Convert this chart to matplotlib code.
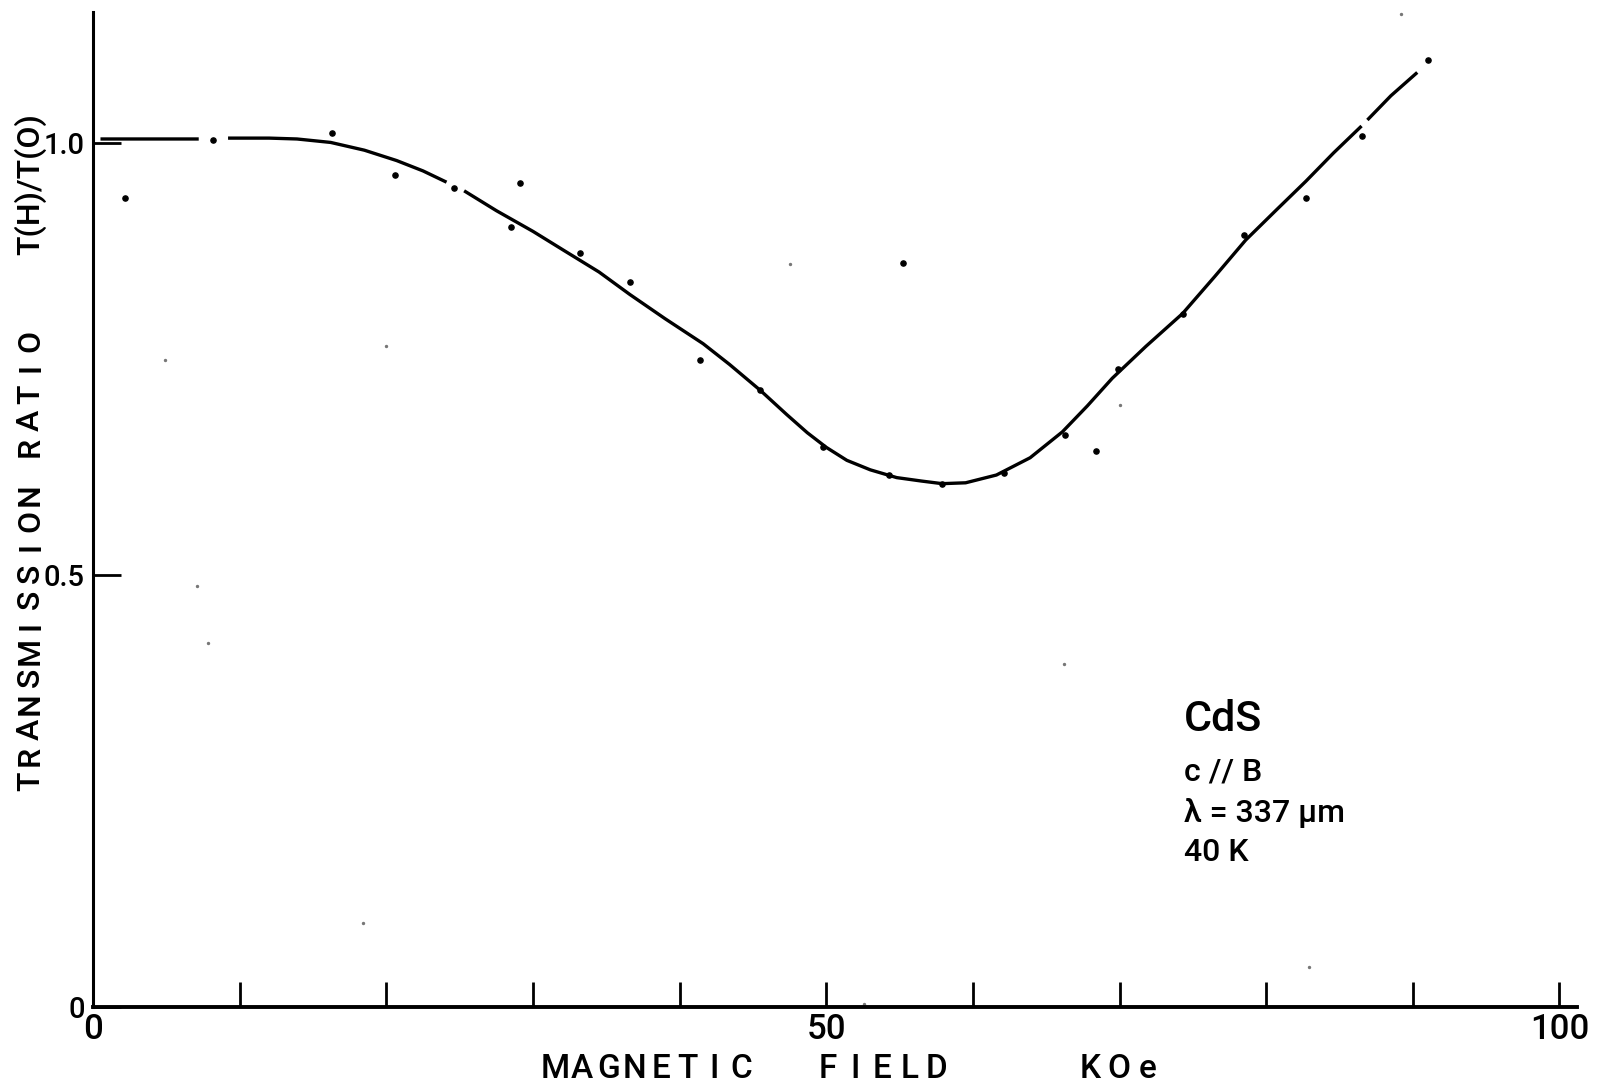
import numpy as np
import matplotlib
matplotlib.use("Agg")
from matplotlib import pyplot as plt
from matplotlib import transforms

plt.rcParams['font.family'] = ['Roboto', 'DejaVu Sans']
plt.rcParams['font.weight'] = 'medium'

# hand-drawn curve, nan = pen lifted
curve_x = [0.5, 3.0, 7.2, np.nan, 9.2, 12.0, 13.9, 16.2, 18.5, 20.7, 22.5, 24.1, np.nan,
           25.3, 27.5, 30.0, 32.1, 34.5, 36.6, 39.0, 41.6, 43.4, 45.5, 47.3, 48.7, 50.0,
           51.4, 53.0, 54.8, 56.5, 57.9, 59.5, 61.6, 63.9, 66.1, 67.8, 69.5, 71.8, 74.3,
           76.5, 78.6, 80.7, 82.7, 84.6, 86.5, np.nan, 86.9, 88.5, 90.3]
curve_y = [1.005, 1.005, 1.005, np.nan, 1.006, 1.006, 1.005, 1.001, 0.992, 0.980, 0.968, 0.955, np.nan,
           0.945, 0.922, 0.898, 0.876, 0.851, 0.825, 0.797, 0.768, 0.744, 0.714, 0.686, 0.665, 0.648,
           0.633, 0.622, 0.613, 0.609, 0.606, 0.607, 0.616, 0.636, 0.666, 0.696, 0.728, 0.765, 0.803,
           0.846, 0.888, 0.923, 0.956, 0.989, 1.020, np.nan, 1.027, 1.055, 1.082]

# measured points
pts_x = [2.2, 8.2, 16.3, 20.6, 24.6, 29.1, 28.5, 33.2, 36.6, 41.4, 45.5, 49.8, 54.3,
         55.2, 57.9, 62.1, 66.3, 68.4, 69.9, 74.3, 78.5, 82.7, 86.5, 91.0]
pts_y = [0.937, 1.004, 1.012, 0.963, 0.948, 0.954, 0.903, 0.873, 0.839, 0.749, 0.714, 0.648, 0.616,
         0.861, 0.606, 0.618, 0.662, 0.644, 0.739, 0.802, 0.894, 0.937, 1.008, 1.097]

# scan specks
speck_x = [4.9, 7.1, 7.8, 18.4, 89.2, 82.9, 66.2, 70.0, 52.6, 20.0, 47.5]
speck_y = [0.749, 0.488, 0.421, 0.098, 1.150, 0.047, 0.397, 0.697, 0.004, 0.765, 0.860]

xticks = [0, 10, 20, 30, 40, 50, 60, 70, 80, 90, 100]
xticklabels = ['0', '', '', '', '', '50', '', '', '', '', '100']
yticks = [0, 0.5, 1.0]
yticklabels = ['0', '0.5', '1.0']

notes = ['CdS', 'c // B', 'λ = 337 μm', '40 K']
notes_y = [0.333, 0.272, 0.225, 0.179]
notes_size = [31, 23, 23, 23]

fig = plt.figure(figsize=(16.06, 10.90), dpi=100)
ax = fig.add_axes([0.058, 0.076, 0.924, 0.913])

ax.plot(curve_x, curve_y, color='black', lw=2.4, solid_capstyle='butt')
ax.scatter(pts_x, pts_y, s=14, color='black', zorder=3)
ax.scatter(speck_x, speck_y, s=2, color='#777777', zorder=2)

ax.set_xlim(0, 101.2)
ax.set_ylim(0, 1.152)
ax.spines['top'].set_visible(False)
ax.spines['right'].set_visible(False)
ax.spines['left'].set_linewidth(2.2)
ax.spines['bottom'].set_linewidth(2.8)

ax.set_xticks(xticks)
ax.set_xticklabels(xticklabels, fontsize=25)
ax.set_yticks(yticks)
ax.set_yticklabels(yticklabels, fontsize=21)
ax.tick_params(axis='x', direction='in', length=18, width=2, pad=4)
ax.tick_params(axis='y', direction='in', length=20, width=2, pad=6)

# axis titles: letters placed one by one, like the stencil lettering
tb = transforms.blended_transform_factory(ax.transData, fig.transFigure)
for word, x0, step in [('MAGNETIC', 31.5, 1.81), ('FIELD', 50.1, 1.85), ('KOe', 68.0, 1.95)]:
    for i, ch in enumerate(word):
        ax.text(x0 + i * step, 0.019, ch, transform=tb, ha='center', va='center', fontsize=24)
tl = transforms.blended_transform_factory(fig.transFigure, ax.transData)
for word, y0, step in [('TRANSMISSION', 0.261, 0.0302), ('RATIO', 0.648, 0.0308)]:
    for i, ch in enumerate(word):
        ax.text(0.019, y0 + i * step, ch, transform=tl, ha='center', va='center',
                rotation=90, fontsize=23)
ax.text(0.019, 0.953, 'T(H)/T(O)', transform=tl, ha='center', va='center', rotation=90, fontsize=23)

for s, yv, fs in zip(notes, notes_y, notes_size):
    ax.text(74.4, yv, s, ha='left', va='center', fontsize=fs)

fig.savefig('out.png', dpi=100)
